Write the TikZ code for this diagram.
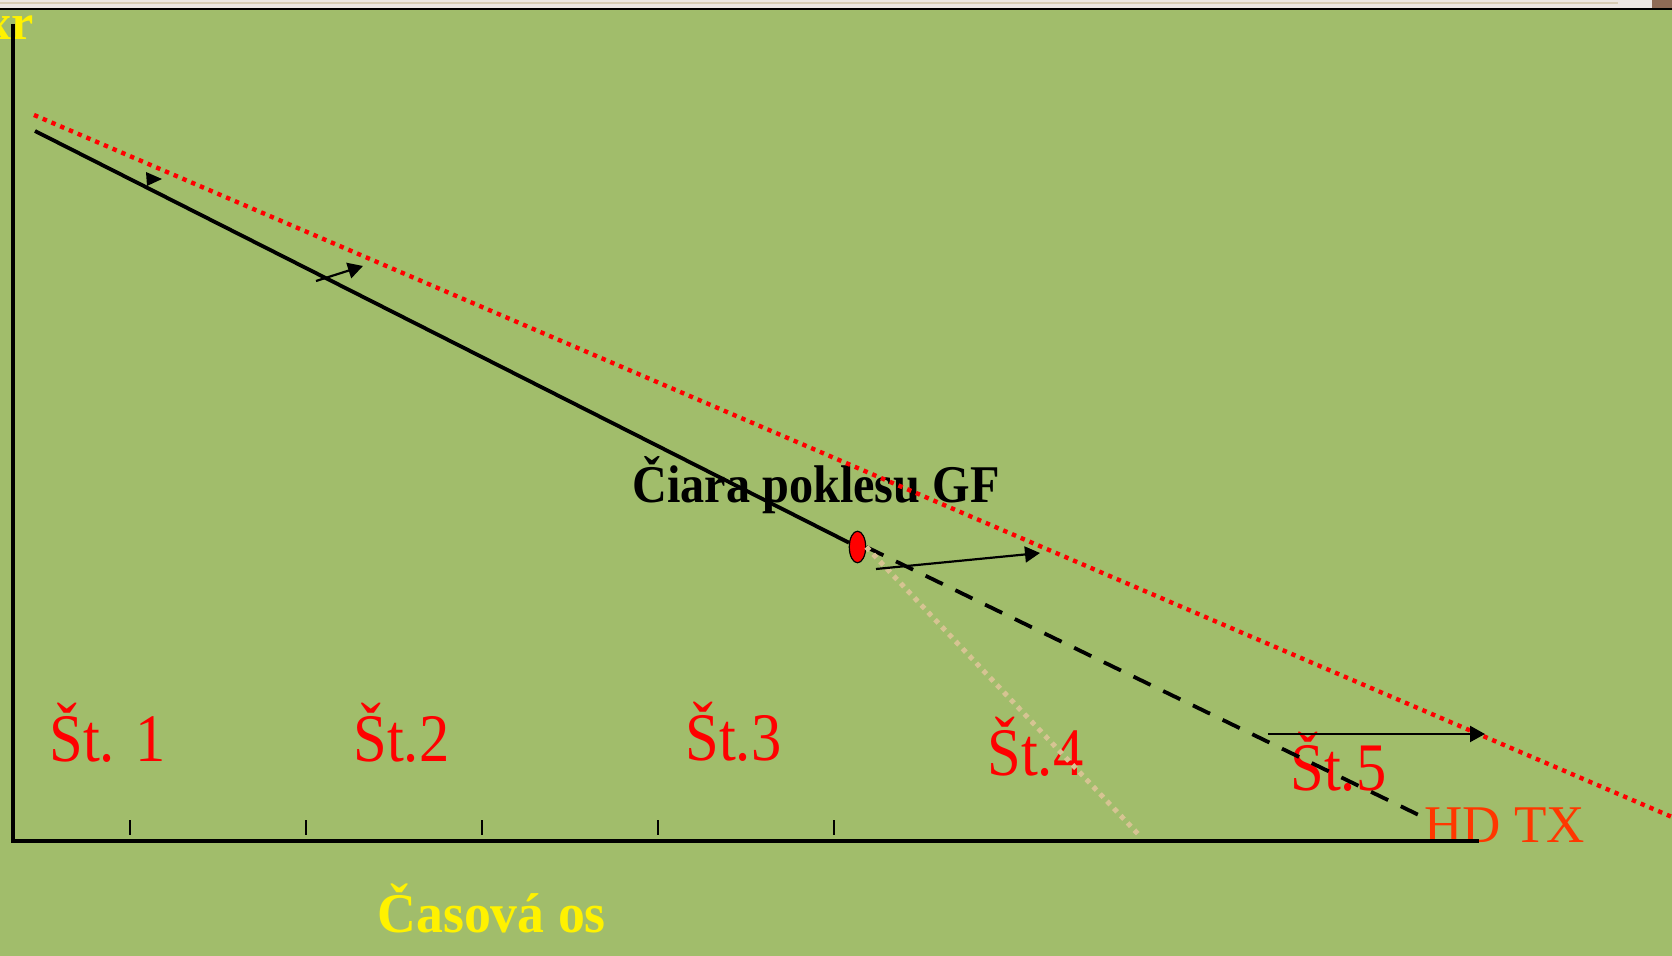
\documentclass[tikz,border=0pt]{standalone}
\usepackage{fontspec}
\setmainfont{Liberation Serif}
\newfontfamily\stfont[FakeStretch=0.89]{Liberation Serif}
\newfontfamily\cifont[FakeStretch=0.91]{Liberation Serif}
\newfontfamily\casfont[FakeStretch=0.96]{Liberation Serif}
\usetikzlibrary{arrows.meta,shapes.geometric}
\definecolor{bggreen}{RGB}{161,189,107}
\definecolor{beigedot}{RGB}{214,196,146}
\definecolor{hdcol}{RGB}{255,55,0}
\definecolor{topstrip}{RGB}{236,231,227}
\definecolor{topline}{RGB}{216,205,181}
\definecolor{topbrown}{RGB}{143,107,86}
\tikzset{
  axisline/.style={line width=1.75pt, black},
  tickline/.style={line width=0.8pt, black},
  mainline/.style={line width=1.9pt, black},
  reddots/.style={line width=2.2pt, red, dash pattern=on 2.2pt off 2.55pt},
  beigedots/.style={line width=2.5pt, beigedot, dash pattern=on 2.4pt off 2.6pt},
  blackdash/.style={line width=1.9pt, black, dash pattern=on 9.5pt off 7pt},
  arr/.style={line width=1.1pt, black, -{Triangle[length=7.5pt,width=8pt]}},
  stlabel/.style={text=red, font=\stfont\fontsize{34}{40}\selectfont, inner sep=0pt, anchor=base west},
  plainlabel/.style={inner sep=0pt, anchor=base west},
}
\begin{document}
\begin{tikzpicture}[x=0.5pt,y=-0.5pt]
\useasboundingbox (0,0) rectangle (1672,956);
\fill[bggreen] (0,0) rectangle (1672,956);
% window strip at top
\fill[topstrip] (0,0) rectangle (1672,8.5);
\draw[topline, line width=0.8pt] (0,2.8) -- (1618,2.8);
\fill[topbrown] (1652,0) rectangle (1672,8.5);
\draw[black, line width=0.8pt] (0,9.2) -- (1672,9.2);

% labels
\node[plainlabel, anchor=base east, text=yellow, font=\bfseries\fontsize{25}{30}\selectfont] (xr) at (34,40) {xr};
\node[stlabel] (st1) at (49,762) {Št. 1};
\node[stlabel] (st2) at (353,762) {Št.2};
\node[stlabel] (st3) at (685,761) {Št.3};
\node[stlabel] (st4) at (987,776) {Št.4};
\node[stlabel] (st5) at (1290,791) {Št.5};
\node[plainlabel, text=hdcol, font=\fontsize{26.5}{30}\selectfont] (hd) at (1424,842) {HD TX};
\node[plainlabel, text=yellow, font=\casfont\bfseries\fontsize{28}{32}\selectfont] (cas) at (377,932) {Časová os};
\node[plainlabel, text=black, font=\cifont\bfseries\fontsize{26.5}{30}\selectfont] (ciara) at (632,503) {Čiara poklesu GF};

% axes
\coordinate (ytop) at (13,24);
\coordinate (orig) at (13,841);
\coordinate (xend) at (1479,841);
\draw[axisline] (ytop) -- (orig) -- (xend);
\foreach \t in {130,306,482,658,834}{
  \coordinate (tb\t) at (\t,835);
  \coordinate (tt\t) at (\t,820);
  \draw[tickline] (tb\t) -- (tt\t);
}

% lines
\coordinate (r0) at (34,115);
\coordinate (r1) at (1672,817);
\draw[reddots] (r0) -- (r1);

\node[ellipse, draw=black, line width=0.6pt, fill=red, minimum width=8.2pt, minimum height=15.8pt, inner sep=0pt] (ell) at (857.5,547) {};

\coordinate (s0) at (35,131);
\draw[mainline] (s0) -- (ell);

\coordinate (d1) at (1427,819);
\draw[blackdash] (ell.east) -- (d1);

\coordinate (b1) at (1139,835);
\draw[beigedots] (ell.east) -- (b1);

% arrows
\coordinate (a1s) at (876,569);
\coordinate (a1e) at (1040,553);
\draw[arr] (a1s) -- (a1e);

\coordinate (a2s) at (316,281);
\coordinate (a2e) at (363,266);
\draw[arr] (a2s) -- (a2e);

\coordinate (a3s) at (1268,734);
\coordinate (a3e) at (1485,734);
\draw[arr] (a3s) -- (a3e);

\coordinate (tri1) at (146,172);
\coordinate (tri2) at (162,179);
\coordinate (tri3) at (147,186);
\fill[black] (tri1) -- (tri2) -- (tri3) -- cycle;
\end{tikzpicture}
\end{document}
